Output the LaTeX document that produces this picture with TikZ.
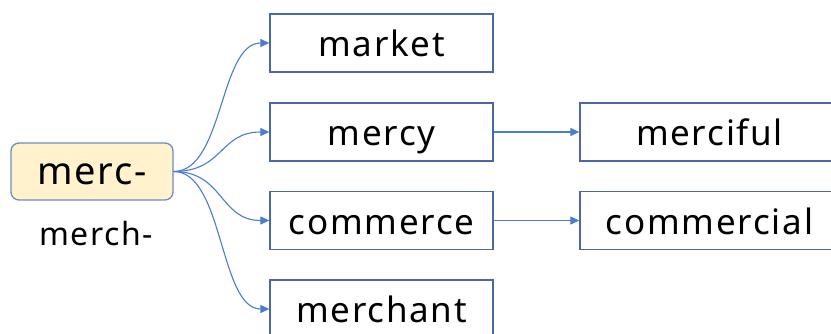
\documentclass[tikz,border=0pt]{standalone}
\usepackage{fontspec}
\setmainfont{Noto Sans}[LetterSpace=5]
\usetikzlibrary{arrows.meta}
\definecolor{boxline}{HTML}{4A68A5}
\definecolor{rootline}{HTML}{6A8CC4}
\definecolor{arrowc}{HTML}{4A7CCF}
\definecolor{rootfill}{HTML}{FFF2CC}
\begin{document}
\begin{tikzpicture}[x=1pt,y=-1pt,
  wordbox/.style={draw=boxline,line width=1.3pt,minimum height=58pt,inner sep=0pt,
    text height=28pt,text depth=0pt,font=\fontsize{35pt}{40pt}\selectfont},
  link/.style={draw=arrowc,line width=1.1pt,-{Triangle[length=9pt,width=8pt]}}]
\useasboundingbox (0,0) rectangle (831,334);
\clip (0,0) rectangle (831,334);
\node[draw=rootline, fill=rootfill, rounded corners=8pt, line width=1.3pt,
  minimum width=162pt, minimum height=57pt, inner sep=0pt,
  text height=27pt, text depth=0pt, font=\fontsize{38pt}{44pt}\selectfont] (root) at (92,171.5) {merc-};
\node[anchor=base, inner sep=0pt, font=\fontsize{32pt}{38pt}\selectfont] (alt) at (96,246) {merch-};
\node[wordbox, minimum width=223pt] (market) at (381.5,43) {market};
\node[wordbox, minimum width=223pt] (mercy) at (381.5,132) {mercy};
\node[wordbox, minimum width=223pt] (commerce) at (381.5,220.5) {commerce};
\node[wordbox, minimum width=223pt] (merchant) at (381.5,309) {merchant};
\node[wordbox, minimum width=259pt] (merciful) at (709.5,132) {merciful};
\node[wordbox, minimum width=259pt] (commercial) at (709.5,220.5) {commercial};
\draw[link] (root.east) .. controls +(50,0) and +(-50,0) .. (market.west);
\draw[link] (root.east) .. controls +(50,0) and +(-50,0) .. (mercy.west);
\draw[link] (root.east) .. controls +(50,0) and +(-50,0) .. (commerce.west);
\draw[link] (root.east) .. controls +(50,0) and +(-50,0) .. (merchant.west);
\draw[link] (mercy.east) -- (merciful.west);
\draw[link] (commerce.east) -- (commercial.west);
\end{tikzpicture}
\end{document}
